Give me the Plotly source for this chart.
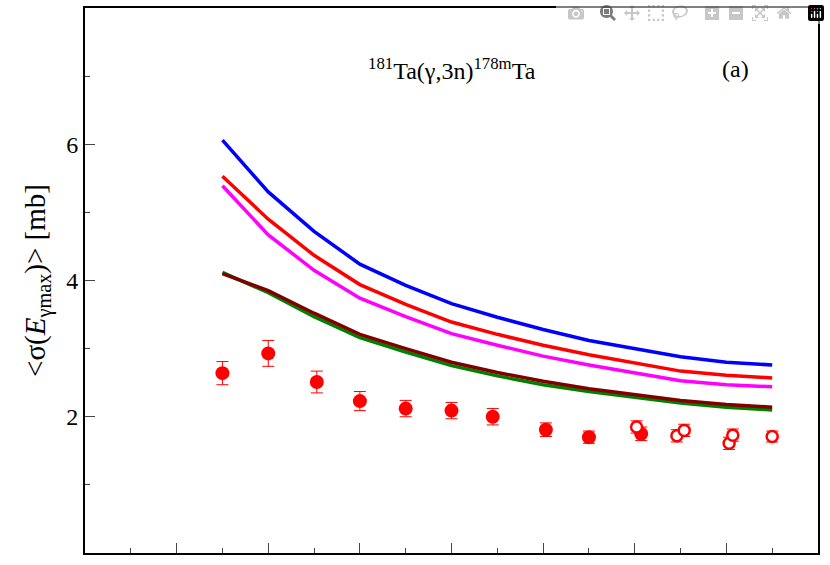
import plotly.graph_objects as go

x_lines = [1.5, 2.0, 2.5, 3.0, 3.5, 4.0, 4.5, 5.0, 5.5, 6.0, 6.5, 7.0, 7.5]
blue = [6.06, 5.30, 4.72, 4.24, 3.93, 3.66, 3.46, 3.28, 3.12, 3.00, 2.88, 2.80, 2.76]
red = [5.53, 4.90, 4.37, 3.94, 3.65, 3.39, 3.21, 3.05, 2.91, 2.79, 2.67, 2.61, 2.57]
magenta = [5.39, 4.67, 4.15, 3.74, 3.47, 3.22, 3.05, 2.89, 2.76, 2.64, 2.53, 2.47, 2.44]
maroon = [4.10, 3.85, 3.52, 3.21, 3.00, 2.80, 2.65, 2.52, 2.41, 2.32, 2.24, 2.18, 2.14]
green = [4.12, 3.82, 3.47, 3.16, 2.95, 2.75, 2.60, 2.47, 2.37, 2.28, 2.20, 2.14, 2.10]

x_filled = [1.5, 2.0, 2.53, 3.0, 3.5, 4.0, 4.45, 5.03, 5.5, 6.07]
y_filled = [2.64, 2.93, 2.51, 2.23, 2.12, 2.09, 2.00, 1.81, 1.70, 1.75]
e_filled = [0.17, 0.19, 0.16, 0.14, 0.12, 0.12, 0.12, 0.10, 0.09, 0.10]
x_open = [6.02, 6.46, 6.54, 7.03, 7.07, 7.5]
y_open = [1.85, 1.72, 1.80, 1.61, 1.73, 1.71]
e_open = [0.09, 0.09, 0.09, 0.09, 0.09, 0.08]

fig = go.Figure()
for ys, c in [(green, "green"), (maroon, "#800000"), (magenta, "#ff00ff"), (red, "red"), (blue, "blue")]:
    fig.add_trace(go.Scatter(x=x_lines, y=ys, mode="lines", line=dict(color=c, width=3.5), showlegend=False))
fig.add_trace(go.Scatter(x=x_filled, y=y_filled, mode="markers",
    marker=dict(color="red", size=14),
    error_y=dict(array=e_filled, color="red", thickness=1, width=6), showlegend=False))
fig.add_trace(go.Scatter(x=x_open, y=y_open, mode="markers",
    marker=dict(color="white", size=11, line=dict(color="red", width=2.5)),
    error_y=dict(array=e_open, color="red", thickness=1, width=6), showlegend=False))

font = dict(family="Liberation Serif, Times New Roman, serif", size=24, color="black")
fig.update_layout(
    width=830, height=565, margin=dict(l=85, r=12, t=6, b=12),
    plot_bgcolor="white", paper_bgcolor="white", font=font,
    xaxis=dict(range=[0, 8], showticklabels=False, ticks="inside", ticklen=10, dtick=1,
               minor=dict(ticks="inside", ticklen=5, dtick=0.5), showline=True, linecolor="black",
               linewidth=2, mirror=True, showgrid=False, zeroline=False),
    yaxis=dict(range=[0, 8], tickvals=[2, 4, 6, 8], ticks="inside", ticklen=10,
               minor=dict(ticks="inside", ticklen=5, tickvals=[1, 3, 5, 7]), showline=True,
               linecolor="black", linewidth=2, mirror=True, showgrid=False, zeroline=False,
               title=dict(text="<σ(<i>E</i><sub>γmax</sub>)> [mb]", standoff=12)),
    annotations=[
        dict(x=4.0, y=7.1, xref="x", yref="y", showarrow=False,
             text="<sup>181</sup>Ta(γ,3n)<sup>178m</sup>Ta", font=font),
        dict(x=7.1, y=7.1, xref="x", yref="y", showarrow=False, text="(a)", font=font),
    ],
)
fig.write_html("out.html", post_script="document.body.style.margin='0';")
